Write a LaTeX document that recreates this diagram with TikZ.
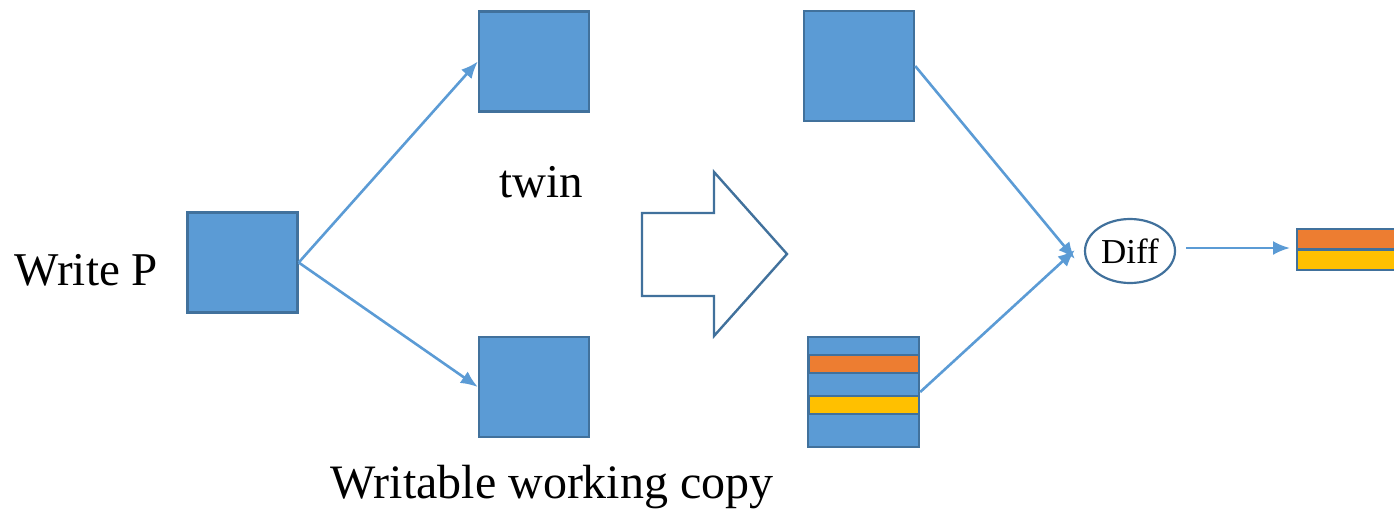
\documentclass[tikz,border=0pt]{standalone}
\usepackage{fontspec}
\setmainfont{Liberation Serif}
\usetikzlibrary{arrows.meta,shapes.geometric}
\definecolor{boxfill}{HTML}{5B9BD5}
\definecolor{boxline}{HTML}{41719C}
\definecolor{stripeA}{HTML}{ED7D31}
\definecolor{stripeB}{HTML}{FFC000}
\tikzset{
  page/.style={x=1pt,y=-1pt},
  block/.style={draw=boxline,fill=boxfill,line width=2.4pt,minimum width=110pt,minimum height=100pt,inner sep=0pt},
  label/.style={font=\fontsize{47}{54}\selectfont,inner sep=0pt},
  link/.style={draw=boxfill,line width=2.6pt,-{Latex[length=17pt,width=14pt]}},
  stripe/.style={draw=boxline,line width=2.4pt},
}
\begin{document}
\begin{tikzpicture}[page]
\useasboundingbox (0,0) rectangle (1394,512);
% the page being written and its twin / working copy
\node[block] (p) at (242.5,262.5) {};
\node[block] (twin) at (534,61.5) {};
\node[block] (copy) at (534,387) {};
\node[label,anchor=east] (wp) at (158,270) {Write P};
\node[label,anchor=base] (tw) at (541,197) {twin};
\node[label,anchor=base,font=\fontsize{48}{54}\selectfont] (wc) at (552,498) {Writable working copy};
\draw[link] (p.east) -- (twin.west);
\draw[link] (p.east) -- (copy.west);
% transition arrow
\draw[draw=boxline,line width=2.4pt,fill=white]
  (642,213) -- (714,213) -- (714,172) -- (787,254) -- (714,336) -- (714,296) -- (642,296) -- cycle;
% after the writes: twin and modified copy
\node[block,minimum width=110pt,minimum height=110pt] (twin2) at (859,66) {};
\node[block,minimum width=111pt,minimum height=110pt] (mod) at (863.5,392) {};
\draw[stripe,fill=stripeA] ([xshift=1.5pt]mod.west |- 0,355) rectangle ([xshift=-1.5pt]mod.east |- 0,373);
\draw[stripe,fill=stripeB] ([xshift=1.5pt]mod.west |- 0,396) rectangle ([xshift=-1.5pt]mod.east |- 0,414);
% diff and resulting changes
\node[draw=boxline,line width=2.2pt,ellipse,minimum width=90pt,minimum height=64pt,inner sep=0pt,font=\fontsize{35}{40}\selectfont] (diff) at (1130,251) {Diff};
\coordinate (inA) at ([shift={(-9pt,-8pt)}]diff.west);
\coordinate (inB) at ([shift={(-9pt,1pt)}]diff.west);
\draw[link] (twin2.east) -- (inA);
\draw[link] (mod.east) -- (inB);
\coordinate (out) at (1290,248);
\draw[stripe,fill=stripeA] (1297,229) rectangle (1400,249);
\draw[stripe,fill=stripeB] (1297,250) rectangle (1400,270);
\draw[link] (diff.east |- out) ++(10pt,0) -- (out);
\end{tikzpicture}
\end{document}
